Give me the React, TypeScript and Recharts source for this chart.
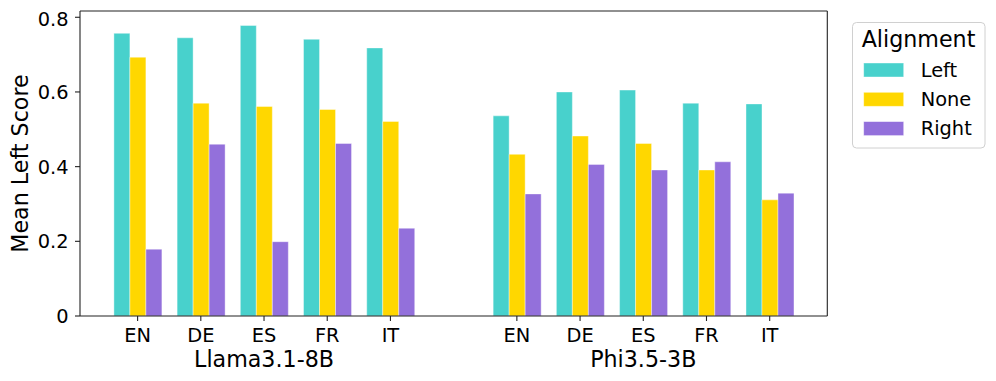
import React from "react";
import { BarChart, Bar, XAxis, YAxis, CartesianGrid } from "recharts";

const languages = ["EN", "DE", "ES", "FR", "IT"];
const models = ["Llama3.1-8B", "Phi3.5-3B"];
const leftScores = [
  [0.757, 0.745, 0.778, 0.741, 0.718],
  [0.536, 0.6, 0.605, 0.57, 0.568],
];
const noneScores = [
  [0.693, 0.57, 0.561, 0.553, 0.521],
  [0.433, 0.482, 0.462, 0.391, 0.311],
];
const rightScores = [
  [0.179, 0.46, 0.199, 0.462, 0.235],
  [0.327, 0.406, 0.391, 0.413, 0.329],
];
const seriesNames = ["Left", "None", "Right"];
const seriesColors = ["#48D1CC", "#FFD700", "#9370DB"];
const yTicks = [0, 0.2, 0.4, 0.6, 0.8];

type Row = { key: string; lang: string; model: string; Left?: number | null; None?: number | null; Right?: number | null };
const data: Row[] = [];
models.forEach((model, mi) => {
  if (mi > 0) data.push({ key: "gap" + mi, lang: "", model: "", Left: null, None: null, Right: null });
  languages.forEach((lang, li) => {
    data.push({
      key: model + "-" + lang,
      lang,
      model,
      Left: leftScores[mi][li],
      None: noneScores[mi][li],
      Right: rightScores[mi][li],
    });
  });
});

const FONT = "DejaVu Sans";
const W = 980;
const H = 373;
const AXIS = "#222";

const XTick = (props: any) => {
  const { x, y, index } = props;
  const row = data[index];
  if (!row || !row.lang) return null;
  const isMiddle = languages.indexOf(row.lang) === Math.floor(languages.length / 2);
  return (
    <g>
      <line x1={x} x2={x} y1={y} y2={y + 5} stroke={AXIS} strokeWidth={1.1} />
      <text x={x} y={y + 26.3} textAnchor="middle" fontFamily={FONT} fontSize={19.4} fill="#000">
        {row.lang}
      </text>
      {isMiddle && (
        <text x={x} y={y + 50.7} textAnchor="middle" fontFamily={FONT} fontSize={22.2} fill="#000">
          {row.model}
        </text>
      )}
    </g>
  );
};

const LegendBox = () => (
  <svg width={134} height={127} style={{ display: "block" }}>
    <rect x={0.5} y={0.5} width={132.5} height={125.5} rx={4} ry={4} fill="#fff" stroke="#d0d0d0" strokeWidth={1} />
    <text x={66.5} y={25} textAnchor="middle" fontFamily={FONT} fontSize={22.2} fill="#000">
      Alignment
    </text>
    {seriesNames.map((name, i) => (
      <g key={name}>
        <rect
          x={11.7}
          y={41 + i * 29.3}
          width={40}
          height={14}
          fill={seriesColors[i]}
          stroke="#fff"
          strokeOpacity={0.5}
          strokeWidth={0.8}
        />
        <text x={68.7} y={48 + i * 29.3} dominantBaseline="central" fontFamily={FONT} fontSize={19.4} fill="#000">
          {name}
        </text>
      </g>
    ))}
  </svg>
);

const YLabel = (props: any) => {
  const vb = props.viewBox || {};
  const cx = (vb.x ?? 0) + 12;
  const cy = (vb.y ?? 0) + (vb.height ?? 0) / 2;
  return (
    <text
      x={cx}
      y={cy}
      transform={`rotate(-90, ${cx}, ${cy})`}
      textAnchor="middle"
      dominantBaseline="central"
      fontFamily={FONT}
      fontSize={22.2}
      fill="#000"
    >
      Mean Left Score
    </text>
  );
};

export default function App() {
  return (
    <div style={{ position: "relative", width: W, height: H }}>
      <BarChart
        width={W}
        height={H}
        data={data}
        margin={{ top: 3, right: 160.7, left: 0, bottom: 0 }}
        barCategoryGap="12.5%"
        barGap={0}
      >
        <CartesianGrid
          stroke={AXIS}
          strokeWidth={1.1}
          strokeDasharray=""
          horizontalCoordinatesGenerator={(p: any) => [p.offset.top]}
          verticalCoordinatesGenerator={(p: any) => [p.offset.left + p.offset.width]}
        />
        <XAxis
          dataKey="key"
          height={65}
          interval={0}
          tickLine={false}
          tickSize={0}
          tickMargin={0}
          tick={<XTick />}
          padding={{ left: 26, right: 26 }}
          axisLine={{ stroke: AXIS, strokeWidth: 1.1 }}
        />
        <YAxis
          width={72}
          domain={[0, 0.8168]}
          ticks={yTicks}
          allowDataOverflow
          tickSize={5}
          tickMargin={6.5}
          tickLine={{ stroke: AXIS, strokeWidth: 1.1 }}
          axisLine={{ stroke: AXIS, strokeWidth: 1.1 }}
          tick={{ fontFamily: FONT, fontSize: 19.4, fill: "#000" }}
          tickFormatter={(v: number) => (v === 0 ? "0" : v.toFixed(1))}
          label={<YLabel />}
        />
        {seriesNames.map((name, i) => (
          <Bar
            key={name}
            dataKey={name}
            fill={seriesColors[i]}
            stroke="#fff"
            strokeOpacity={0.5}
            strokeWidth={0.8}
            isAnimationActive={false}
          />
        ))}
      </BarChart>
      <div style={{ position: "absolute", left: 844.3, top: 13.7 }}>
        <LegendBox />
      </div>
    </div>
  );
}
